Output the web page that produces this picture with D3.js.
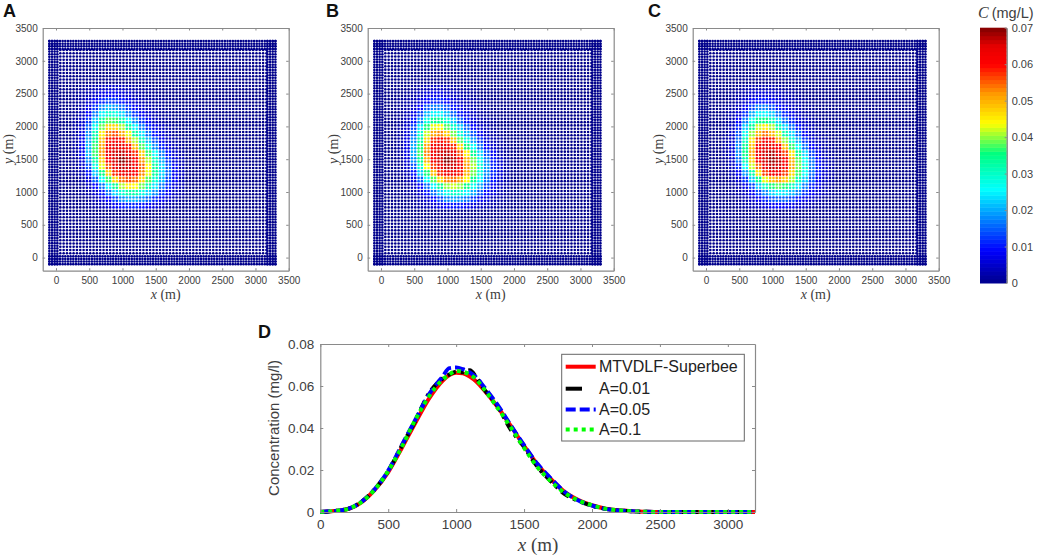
<!DOCTYPE html>
<html lang="en">
  <head>
    <meta charset="UTF-8" />
    <title>Concentration fields</title>
    <script src="https://d3js.org/d3.v7.min.js"></script>
    <style>
      html, body { margin: 0; padding: 0; background: #fff; }
      svg { display: block; }
      text { font-family: "Liberation Sans", Arial, sans-serif; fill: #404040; }
      .math { font-family: "Liberation Serif", "DejaVu Serif", serif; }
    </style>
  </head>
  <body>
    <svg width="1038" height="556"></svg>
    <script>
      // node coordinates (m): dense frame nodes and a coarser lattice inside them.
      // the real interior particles are irregular, the lattice only stands in for them
      let frameNodes = [-100,-60,-20,20,60,100,140,180,220,260,300,340,380,420,460,500,540,580,620,660,700,740,780,820,860,900,940,980,1020,1060,1100,1140,1180,1220,1260,1300,1340,1380,1420,1460,1500,1540,1580,1620,1660,1700,1740,1780,1820,1860,1900,1940,1980,2020,2060,2100,2140,2180,2220,2260,2300,2340,2380,2420,2460,2500,2540,2580,2620,2660,2700,2740,2780,2820,2860,2900,2940,2980,3020,3060,3100,3140,3180,3220,3260,3300];
      let innerNodes = [65,115,165,215,265,315,365,415,465,515,565,615,665,715,765,815,865,915,965,1015,1065,1115,1165,1215,1265,1315,1365,1415,1465,1515,1565,1615,1665,1715,1765,1815,1865,1915,1965,2015,2065,2115,2165,2215,2265,2315,2365,2415,2465,2515,2565,2615,2665,2715,2765,2815,2865,2915,2965,3015,3065,3115,3165];
      let frameBand = [-100,-60,-20,20,3180,3220,3260,3300];

      // concentration, in 0.001 mg/L
      let plumeX = [300,400,500,600,700,800,900,1000,1100,1200,1300,1400,1500,1600,1700,1800,1900];
      let plumeY = [2600,2500,2400,2300,2200,2100,2000,1900,1800,1700,1600,1500,1400,1300,1200,1100,1000,900,800];
      let plumeA = [
        [0,1,2,3,4,5,5,4,3,2,1,1,0,0,0,0,0],
        [1,2,3,5,7,8,8,6,5,3,2,1,1,0,0,0,0],
        [1,2,5,8,11,13,12,10,7,5,3,2,1,1,0,0,0],
        [1,3,7,12,18,21,19,16,12,8,5,3,2,1,0,0,0],
        [1,4,9,17,25,29,28,23,17,12,8,5,3,1,1,0,0],
        [2,5,12,22,33,38,37,32,25,18,12,8,4,2,1,0,0],
        [2,6,15,27,39,47,47,41,33,25,17,11,7,4,2,1,0],
        [2,7,18,32,45,54,56,51,43,33,24,16,10,6,3,1,0],
        [2,8,20,35,49,59,62,59,51,41,31,21,14,8,4,2,1],
        [2,8,21,37,51,62,65,64,59,49,38,28,18,11,6,3,1],
        [2,8,21,37,52,63,66,67,65,58,48,37,26,17,10,5,2],
        [1,6,18,33,48,60,66,70,67,61,52,41,30,20,12,6,3],
        [1,5,14,28,43,56,64,67,66,62,55,44,33,23,14,8,3],
        [1,3,10,22,35,48,58,63,64,60,53,43,33,23,15,8,4],
        [0,2,6,15,26,37,47,54,56,54,47,38,29,21,13,8,3],
        [0,1,4,9,16,25,34,41,45,44,39,32,24,17,11,6,3],
        [0,1,2,5,10,16,23,29,32,32,28,23,18,12,8,4,2],
        [0,0,1,3,6,9,13,18,20,20,18,15,11,8,5,3,1],
        [0,0,1,2,3,5,8,10,11,11,10,8,6,4,2,1,0]
      ];
      let plumeB = [
        [0,0,1,2,3,4,4,3,2,1,1,1,0,0,0,0,0],
        [0,1,2,4,6,7,7,5,4,3,2,1,0,0,0,0,0],
        [1,2,3,6,9,11,11,9,6,4,3,2,1,0,0,0,0],
        [1,2,5,9,14,17,17,14,10,7,4,3,1,1,0,0,0],
        [1,3,7,13,21,25,25,21,15,10,7,4,2,1,0,0,0],
        [1,4,10,18,28,34,34,29,22,15,10,6,3,2,1,0,0],
        [2,5,13,24,36,43,44,38,30,22,15,9,5,3,1,0,0],
        [2,6,16,29,42,51,53,48,39,29,21,14,8,4,2,1,0],
        [2,7,18,33,47,58,61,58,49,38,28,19,12,6,3,2,0],
        [2,7,20,36,51,62,65,64,58,47,36,26,16,9,5,2,1],
        [2,7,20,37,53,63,66,67,65,56,45,34,23,14,8,3,1],
        [1,6,18,34,50,62,66,70,67,61,50,39,27,17,10,5,2],
        [1,5,14,29,44,57,64,67,66,62,52,41,29,19,11,6,2],
        [1,3,10,22,36,49,58,63,63,59,50,39,28,18,11,6,2],
        [0,2,6,15,26,38,47,53,54,51,44,34,25,16,10,5,2],
        [0,1,4,9,16,25,34,40,42,40,35,27,20,13,8,4,2],
        [0,1,2,5,10,16,22,27,30,29,25,20,14,9,6,3,1],
        [0,0,1,3,5,9,13,17,19,18,16,12,8,6,3,2,1],
        [0,0,1,2,3,5,7,9,10,10,8,6,4,3,2,1,0]
      ];
      let plumeC = [
        [0,0,1,2,3,3,3,3,2,1,1,0,0,0,0,0,0],
        [0,1,2,3,5,6,6,5,4,3,2,1,0,0,0,0,0],
        [0,1,3,5,8,10,10,8,6,4,3,2,1,0,0,0,0],
        [1,2,4,8,13,17,17,14,10,7,4,3,1,1,0,0,0],
        [1,3,6,12,20,25,25,22,16,11,7,4,2,1,0,0,0],
        [1,3,9,17,27,34,35,31,23,16,11,6,4,2,1,0,0],
        [1,4,11,22,34,42,45,41,32,23,16,10,5,3,1,0,0],
        [1,5,14,27,40,50,54,50,42,32,23,15,8,4,2,1,0],
        [2,5,16,31,46,57,62,59,51,40,29,20,12,6,3,2,0],
        [2,6,18,34,49,61,65,64,60,49,37,26,16,9,5,2,1],
        [2,6,18,35,51,63,66,68,65,57,46,34,23,13,7,3,1],
        [1,5,16,32,48,61,66,69,67,61,50,38,26,16,9,4,2],
        [1,4,12,26,42,55,64,67,66,61,51,39,28,17,10,5,2],
        [0,3,8,19,32,46,57,62,62,57,47,37,26,16,10,5,2],
        [0,2,5,12,22,34,43,49,51,48,41,31,22,14,8,4,2],
        [0,1,3,7,13,22,30,36,38,36,31,24,17,11,7,3,1],
        [0,1,2,4,8,13,18,23,25,24,21,17,12,8,5,3,1],
        [0,0,1,3,5,8,11,14,15,15,13,10,7,5,3,1,0],
        [0,0,1,2,3,4,6,8,9,8,7,5,4,2,1,1,0]
      ];

      let panelNames = ["A", "B", "C"];
      let panelTables = [plumeA, plumeB, plumeC];
      let fieldTicks = [0, 500, 1000, 1500, 2000, 2500, 3000, 3500];
      let colorbarTicks = [0, 0.01, 0.02, 0.03, 0.04, 0.05, 0.06, 0.07];

      // profile panel D
      let profileX = [0,100,200,300,400,500,600,700,800,900,950,1000,1050,1100,1150,1200,1300,1400,1500,1600,1700,1800,1900,2000,2100,2200,2300,2400,2500,2600,2800,3000,3200];
      let superbee = [0,0.0005,0.0014,0.0045,0.0105,0.019,0.0305,0.0425,0.054,0.0625,0.0652,0.0663,0.0660,0.0645,0.0620,0.0585,0.0505,0.0412,0.0315,0.0225,0.0155,0.0095,0.0057,0.0032,0.0016,0.0008,0.0003,0.0001,0,0,0,0,0];
      let a001 = [0,0.0005,0.0014,0.0047,0.0108,0.0195,0.0315,0.0435,0.0565,0.0635,0.0655,0.0668,0.0665,0.0675,0.0640,0.0590,0.0510,0.0395,0.0310,0.0215,0.0145,0.0085,0.0053,0.0030,0.0015,0.0007,0.0003,0.0001,0,0,0,0,0];
      let a005 = [0,0.0005,0.0014,0.0047,0.0108,0.0197,0.0318,0.0440,0.0560,0.0645,0.0685,0.0688,0.0680,0.0665,0.0640,0.0600,0.0515,0.0415,0.0318,0.0228,0.0158,0.0095,0.0055,0.0031,0.0015,0.0007,0.0003,0.0001,0,0,0,0,0];
      let a01 = [0,0.0005,0.0014,0.0046,0.0106,0.0195,0.0310,0.0440,0.0550,0.0630,0.0655,0.0672,0.0668,0.0655,0.0630,0.0590,0.0500,0.0405,0.0305,0.0212,0.0145,0.0090,0.0055,0.0032,0.0016,0.0008,0.0003,0.0001,0,0,0,0,0];
      let seriesNames = ["MTVDLF-Superbee", "A=0.01", "A=0.05", "A=0.1"];
      let seriesValues = [superbee, a001, a005, a01];
      let seriesColors = ["#ff0000", "#000000", "#0000ff", "#00ff00"];
      let seriesDash = ["none", "9 5 3 5", "10 4", "4 4"];
      let profileXTicks = [0, 500, 1000, 1500, 2000, 2500, 3000];
      let profileYTicks = [0, 0.02, 0.04, 0.06, 0.08];

      // jet-like colour map of the colorbar
      let jetStops = [0, 0.009, 0.0256, 0.0355, 0.0438, 0.052, 0.06, 0.065, 0.07];
      let jetColors = ["#00008b", "#0000ff", "#00ffff", "#00ff80", "#ffff00", "#ff9900", "#ff0000", "#e60000", "#800000"];
      let colorScale = d3.scaleLinear().domain(jetStops).range(jetColors).clamp(true);

      let svg = d3.select("svg");
      let axisGray = "#8a8a8a";
      let plainTick = d3.format("d");
      let decimalTick = (d) => (d === 0 ? "0" : d3.format(".2f")(d));

      function styleAxis(g, size) {
        g.selectAll(".domain").attr("stroke", axisGray).attr("stroke-width", 1.2);
        g.selectAll(".tick line").attr("stroke", axisGray).attr("stroke-width", 1);
        g.selectAll("text").style("font-size", size + "px").attr("fill", "#404040");
      }

      function lookup(table, x, y) {
        if (x < 250 || x > 1950 || y < 750 || y > 2650) return 0;
        let row = plumeY.length - 1 - d3.bisectCenter(plumeY.slice().reverse(), y);
        return table[row][d3.bisectCenter(plumeX, x)] / 1000;
      }

      let panelLefts = [42.7, 367.7, 692.7];
      let letterLefts = [3, 326, 648];
      panelNames.forEach((name, p) => {
        let left = panelLefts[p];
        let x = d3.scaleLinear().domain([-200, 3500]).range([left, left + 246]);
        let y = d3.scaleLinear().domain([-200, 3500]).range([270.7, 28]);
        let table = panelTables[p];
        let g = svg.append("g");

        let nodes = [];
        frameNodes.forEach((a) => frameBand.forEach((b) => {
          nodes.push([a, b]);
          nodes.push([b, a]);
        }));
        innerNodes.forEach((a) => innerNodes.forEach((b) => nodes.push([a, b])));

        g.selectAll("circle")
          .data(nodes)
          .enter()
          .append("circle")
          .attr("cx", (d) => x(d[0]))
          .attr("cy", (d) => y(d[1]))
          .attr("r", 1.3)
          .attr("fill", (d) => colorScale(lookup(table, d[0], d[1])));

        let bottom = g.append("g").attr("transform", "translate(0,270.7)")
          .call(d3.axisBottom(x).tickValues(fieldTicks).tickSize(-2.5).tickSizeOuter(0).tickPadding(6).tickFormat(plainTick));
        let leftAxis = g.append("g").attr("transform", "translate(" + left + ",0)")
          .call(d3.axisLeft(y).tickValues(fieldTicks).tickSize(-2.5).tickSizeOuter(0).tickPadding(5).tickFormat(plainTick));
        let top = g.append("g").attr("transform", "translate(0,28)")
          .call(d3.axisTop(x).tickValues(fieldTicks).tickSize(-2.5).tickSizeOuter(0).tickFormat(""));
        let right = g.append("g").attr("transform", "translate(" + (left + 246) + ",0)")
          .call(d3.axisRight(y).tickValues(fieldTicks).tickSize(-2.5).tickSizeOuter(0).tickFormat(""));
        [bottom, leftAxis, top, right].forEach((a) => styleAxis(a, 10));

        let xl = g.append("text").attr("class", "math")
          .attr("x", left + 123).attr("y", 299)
          .attr("text-anchor", "middle").style("font-size", "14px");
        xl.append("tspan").attr("font-style", "italic").text("x");
        xl.append("tspan").text(" (m)");

        let yl = g.append("text").attr("class", "math")
          .attr("transform", "translate(" + (left - 30) + ",149) rotate(-90)")
          .attr("text-anchor", "middle").style("font-size", "14px");
        yl.append("tspan").attr("font-style", "italic").text("y");
        yl.append("tspan").text(" (m)");

        svg.append("text").attr("x", letterLefts[p]).attr("y", 17)
          .attr("font-weight", "bold").style("font-size", "18px").style("fill", "#111").text(name);
      });

      // colorbar
      let cbarY = d3.scaleLinear().domain([0, 0.07]).range([283, 27.7]);
      let cbar = svg.append("g");
      let levels = d3.range(64).map((i) => (i * 0.07) / 64);
      cbar.selectAll("rect")
        .data(levels)
        .enter()
        .append("rect")
        .attr("x", 980)
        .attr("width", 26.7)
        .attr("y", (d) => cbarY(d + 0.07 / 64))
        .attr("height", (d) => cbarY(d) - cbarY(d + 0.07 / 64) + 0.5)
        .attr("fill", (d) => colorScale(d + 0.07 / 128));
      let cbarAxis = cbar.append("g").attr("transform", "translate(1006.7,0)")
        .call(d3.axisRight(cbarY).tickValues(colorbarTicks).tickSize(-2).tickSizeOuter(0).tickPadding(5).tickFormat(decimalTick));
      styleAxis(cbarAxis, 11);
      cbarAxis.select(".domain").attr("stroke", "#777");
      let cbarTitle = svg.append("text").attr("x", 978).attr("y", 18).style("font-size", "14.5px");
      cbarTitle.append("tspan").attr("class", "math").attr("font-style", "italic").style("font-size", "16px").text("C");
      cbarTitle.append("tspan").attr("dx", 3).text("(mg/L)");

      // panel D
      let px = d3.scaleLinear().domain([0, 3200]).range([320.3, 755]);
      let py = d3.scaleLinear().domain([0, 0.08]).range([512, 344]);
      let gd = svg.append("g");
      let line = d3.line().x((d) => px(d[0])).y((d) => py(d[1])).curve(d3.curveMonotoneX);

      seriesValues.forEach((vals, i) => {
        gd.append("path")
          .attr("d", line(profileX.map((xv, j) => [xv, vals[j]])))
          .attr("fill", "none")
          .attr("stroke", seriesColors[i])
          .attr("stroke-width", 4)
          .attr("stroke-dasharray", seriesDash[i]);
      });

      let dBottom = gd.append("g").attr("transform", "translate(0,512)")
        .call(d3.axisBottom(px).tickValues(profileXTicks).tickSize(-3).tickSizeOuter(0).tickPadding(7).tickFormat(plainTick));
      let dLeft = gd.append("g").attr("transform", "translate(320.3,0)")
        .call(d3.axisLeft(py).tickValues(profileYTicks).tickSize(-3).tickSizeOuter(0).tickPadding(6).tickFormat(decimalTick));
      let dTop = gd.append("g").attr("transform", "translate(0,344)")
        .call(d3.axisTop(px).tickValues(profileXTicks).tickSize(-3).tickSizeOuter(0).tickFormat(""));
      let dRight = gd.append("g").attr("transform", "translate(755,0)")
        .call(d3.axisRight(py).tickValues(profileYTicks).tickSize(-3).tickSizeOuter(0).tickFormat(""));
      [dBottom, dLeft, dTop, dRight].forEach((a) => styleAxis(a, 13.5));

      let dxl = gd.append("text").attr("class", "math")
        .attr("x", 538).attr("y", 551).attr("text-anchor", "middle").style("font-size", "19px");
      dxl.append("tspan").attr("font-style", "italic").text("x");
      dxl.append("tspan").text(" (m)");
      gd.append("text")
        .attr("transform", "translate(279,428) rotate(-90)")
        .attr("text-anchor", "middle").style("font-size", "15px")
        .text("Concentration (mg/l)");
      svg.append("text").attr("x", 258).attr("y", 338)
        .attr("font-weight", "bold").style("font-size", "18px").style("fill", "#111").text("D");

      // legend
      let legend = gd.append("g");
      legend.append("rect")
        .attr("x", 561.7).attr("y", 354.3).attr("width", 182.6).attr("height", 86.7)
        .attr("fill", "#fff").attr("stroke", "#666").attr("stroke-width", 1);
      let legendY = [366.7, 388.7, 409.5, 429.5];
      let legendEnd = [595.7, 582, 595.7, 595.7];
      seriesNames.forEach((name, i) => {
        legend.append("line")
          .attr("x1", 565.7).attr("x2", legendEnd[i])
          .attr("y1", legendY[i]).attr("y2", legendY[i])
          .attr("stroke", seriesColors[i]).attr("stroke-width", 4)
          .attr("stroke-dasharray", i === 1 ? "none" : seriesDash[i]);
        legend.append("text")
          .attr("x", 599).attr("y", legendY[i] + 5.5)
          .style("font-size", "16px").style("fill", "#222").text(name);
      });
    </script>
  </body>
</html>
